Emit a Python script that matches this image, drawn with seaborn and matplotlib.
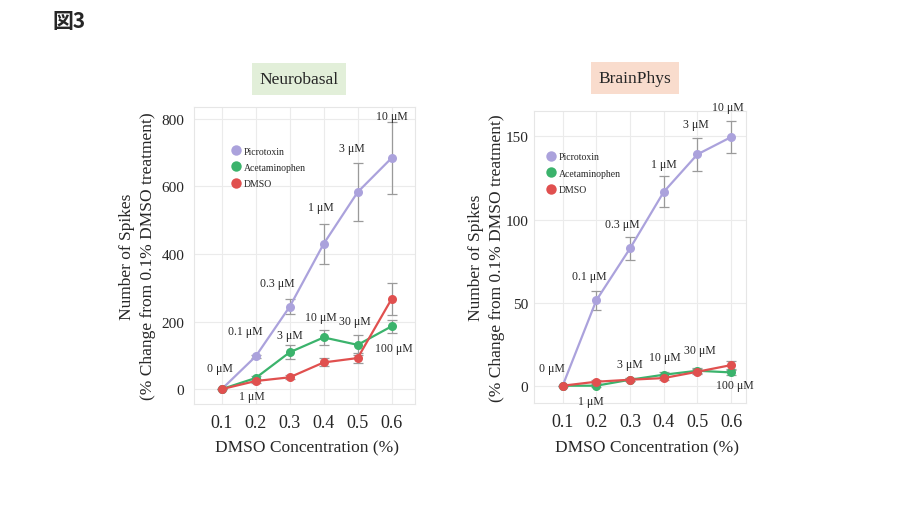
import numpy as np
import pandas as pd
import matplotlib
matplotlib.use("Agg")
import matplotlib.pyplot as plt
import seaborn as sns

# ---------------- data ----------------
dmso_conc = [0.1, 0.2, 0.3, 0.4, 0.5, 0.6]
x_tick_labels = ["0.1", "0.2", "0.3", "0.4", "0.5", "0.6"]
series_names = ["Picrotoxin", "Acetaminophen", "DMSO"]

nb_picro = [0, 97, 244, 430, 583, 684]
nb_picro_err = [0, 5, 23, 60, 86, 106]
nb_acet = [0, 33, 109, 153, 131, 186]
nb_acet_err = [0, 6, 21, 22, 30, 19]
nb_dmso = [0, 24, 35, 79, 92, 267]
nb_dmso_err = [0, 5, 6, 12, 15, 47]

bp_picro = [0, 51.4, 82.6, 116.6, 139.2, 149.6]
bp_picro_err = [0, 5.7, 7, 9.3, 10, 9.8]
bp_acet = [0, 0, 3.6, 6.6, 9, 8]
bp_acet_err = [0, 1, 1, 1.5, 1.5, 1.5]
bp_dmso = [0, 2.4, 3.6, 4.6, 8.4, 12.4]
bp_dmso_err = [0, 1, 1, 1, 1.5, 2.5]

picro_labels = ["0 μM", "0.1 μM", "0.3 μM", "1 μM", "3 μM", "10 μM"]
acet_labels = ["1 μM", "3 μM", "10 μM", "30 μM", "100 μM"]

nb_yticks = [0, 200, 400, 600, 800]
bp_yticks = [0, 50, 100, 150]

# ---------------- style ----------------
sns.set_theme(style="white")
plt.rcParams["font.family"] = ["Liberation Serif", "DejaVu Serif"]

palette = {"Picrotoxin": "#ab a2dc".replace(" ", ""), "Acetaminophen": "#3bb36c", "DMSO": "#e0504f"}
PX = 0.72  # px -> pt at 100 dpi

fig = plt.figure(figsize=(9, 5.06), dpi=100)
fig.patch.set_facecolor("white")

def make_df(p, a, d):
    rows = []
    for name, vals in zip(series_names, [p, a, d]):
        for x, v in zip(dmso_conc, vals):
            rows.append({"conc": x, "value": v, "series": name})
    return pd.DataFrame(rows)

def draw(ax, p, pe, a, ae, d, de, yticks, ylim, xlim,
         picro_off, acet_off, leg_anchor, ylab_x, xlab_xy, ypad):
    df = make_df(p, a, d)
    for name, vals, errs in zip(series_names, [p, a, d], [pe, ae, de]):
        ax.errorbar(dmso_conc, vals, yerr=errs, fmt="none", ecolor="#9a9a9a",
                    elinewidth=0.9, capsize=3.5, capthick=0.9, zorder=2)
    sns.lineplot(data=df, x="conc", y="value", hue="series", hue_order=series_names,
                 palette=palette, marker="o", markersize=6.5, markeredgewidth=0,
                 linewidth=1.6, ax=ax, legend=True, zorder=3, estimator=None)
    ax.set_xlim(*xlim)
    ax.set_ylim(*ylim)
    ax.set_xticks(dmso_conc)
    ax.set_xticklabels(x_tick_labels, fontsize=13)
    ax.set_yticks(yticks)
    ax.set_yticklabels([str(t) for t in yticks], fontsize=11)
    ax.tick_params(axis="both", length=0)
    ax.tick_params(axis="x", pad=7)
    ax.tick_params(axis="y", pad=ypad)
    ax.grid(True, color="#ebebeb", linewidth=0.8)
    for s in ax.spines.values():
        s.set_color("#e6e6e6")
        s.set_linewidth(0.8)
    ax.set_xlabel("DMSO Concentration (%)", fontsize=12.5)
    ax.xaxis.set_label_coords(*xlab_xy)
    ax.set_ylabel("Number of Spikes\n(% Change from 0.1% DMSO treatment)",
                  fontsize=12.5, linespacing=1.45)
    ax.yaxis.set_label_coords(ylab_x, 0.5)
    for lbl, x, y, off in zip(picro_labels, dmso_conc, p, picro_off):
        ax.annotate(lbl, (x, y), xytext=(off[0] * PX, off[1] * PX),
                    textcoords="offset points", ha="center", va="center",
                    fontsize=8.5, zorder=5)
    for lbl, x, y, off in zip(acet_labels, dmso_conc[1:], a[1:], acet_off):
        ax.annotate(lbl, (x, y), xytext=(off[0] * PX, off[1] * PX),
                    textcoords="offset points", ha="center", va="center",
                    fontsize=8.5, zorder=5)
    leg = ax.legend(loc="upper left", bbox_to_anchor=leg_anchor, frameon=False,
                    fontsize=7, handlelength=0.6, handletextpad=0.5,
                    labelspacing=0.75, borderaxespad=0)
    for h in leg.legend_handles:
        h.set_linestyle("none")
        h.set_markersize(7.5)

ax1 = fig.add_axes([0.2156, 0.1996, 0.2456, 0.587])
draw(ax1, nb_picro, nb_picro_err, nb_acet, nb_acet_err, nb_dmso, nb_dmso_err,
     nb_yticks, (-44, 835), (0.0185, 0.669),
     picro_off=[(-2, 21), (-10, 25), (-12, 24), (-3, 37), (-6, 44), (0, 42)],
     acet_off=[(-4, -18), (0, 17), (-3, 20), (-3, 24), (2, -22)],
     leg_anchor=(0.16, 0.88), ylab_x=-0.172, xlab_xy=(0.511, -0.118), ypad=7)

ax2 = fig.add_axes([0.5933, 0.2016, 0.2356, 0.578])
draw(ax2, bp_picro, bp_picro_err, bp_acet, bp_acet_err, bp_dmso, bp_dmso_err,
     bp_yticks, (-10.4, 165.6), (0.0148, 0.6445),
     picro_off=[(-11, 18), (-7, 24), (-8, 24), (0, 28), (-1, 30), (-3, 30)],
     acet_off=[(-5, -15), (0, 16), (1, 18), (3, 21), (4, -13)],
     leg_anchor=(0.05, 0.87), ylab_x=-0.137, xlab_xy=(0.533, -0.124), ypad=4)

# panel titles
fig.text(299 / 900, 1 - 80 / 506, "Neurobasal", ha="center", va="center", fontsize=12.5,
         bbox=dict(boxstyle="square,pad=0.45", facecolor="#e2efd9", edgecolor="none"))
fig.text(635 / 900, 1 - 79 / 506, "BrainPhys", ha="center", va="center", fontsize=12.5,
         bbox=dict(boxstyle="square,pad=0.45", facecolor="#f9dccd", edgecolor="none"))

fig.text(52 / 900, 1 - 22 / 506, "図3", ha="left", va="center", fontsize=15,
         fontweight="bold", family=["Noto Sans CJK JP", "DejaVu Sans"])

fig.savefig("out.png", dpi=100, facecolor="white")
